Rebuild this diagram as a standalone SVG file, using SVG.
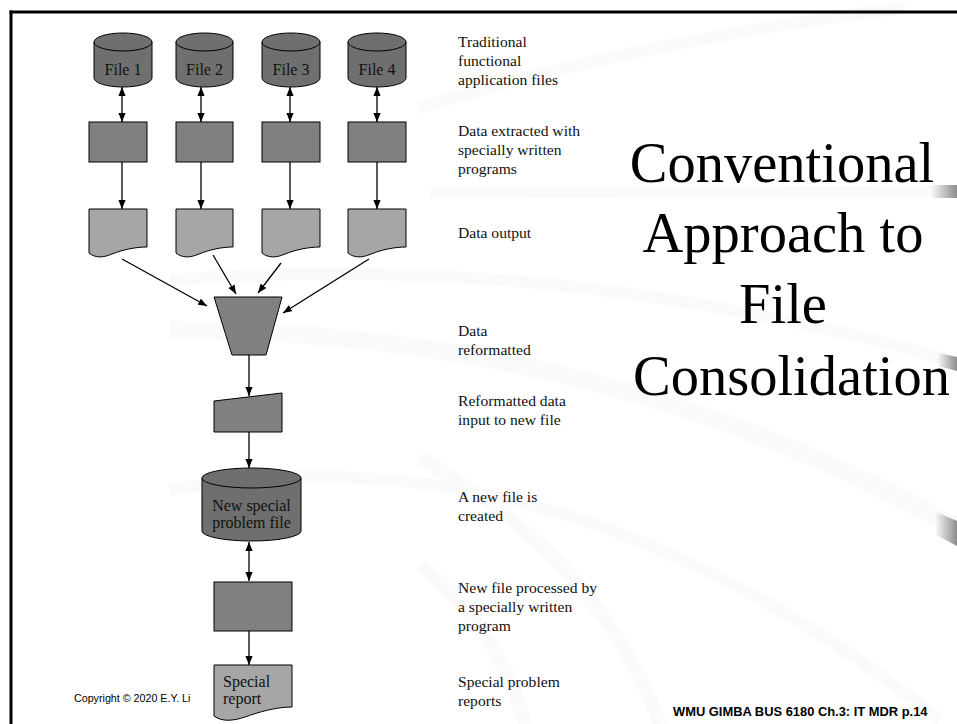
<svg xmlns="http://www.w3.org/2000/svg" width="957" height="724" viewBox="0 0 957 724">
  <defs>
    <style>
      .lbl { font-family: "Liberation Serif", "Times New Roman", serif; font-size: 15.6px; fill: #111; }
      .inner { font-family: "Liberation Serif", "Times New Roman", serif; font-size: 16px; fill: #111; }
      .title { font-family: "Liberation Serif", "Times New Roman", serif; font-size: 56.5px; fill: #000; }
      .foot { font-family: "Liberation Sans", Arial, sans-serif; fill: #000; }
      .cyl { fill: #6f6f6f; stroke: #000; stroke-width: 1; }
      .proc { fill: #808080; stroke: #000; stroke-width: 1; }
      .doc { fill: #a6a6a6; stroke: #000; stroke-width: 1; }
      .conn line { stroke: #000; stroke-width: 1.3; }
      .one { marker-end: url(#ah); }
      .two { marker-start: url(#ah); marker-end: url(#ah); }
      .band { fill: none; stroke: #fafafa; stroke-linecap: butt; }
    </style>
    <marker id="ah" viewBox="0 0 10 8" refX="10" refY="4" markerWidth="9" markerHeight="7.5" markerUnits="userSpaceOnUse" orient="auto-start-reverse">
      <path d="M0,0 L10,4 L0,8 z" fill="#000"/>
    </marker>
    <linearGradient id="tip" x1="0" y1="0" x2="1" y2="0">
      <stop offset="0" stop-color="#f6f6f6"/>
      <stop offset="1" stop-color="#8c8c8c"/>
    </linearGradient>
  </defs>

  <rect width="957" height="724" fill="#fff"/>

  <!-- faint ribbon backdrop -->
  <g id="backdrop">
    <path class="band" d="M420,108 Q640,40 905,8" stroke-width="12"/>
    <path class="band" d="M430,193 L957,191" stroke-width="11"/>
    <path class="band" d="M170,280 Q560,250 957,362" stroke-width="12"/>
    <path class="band" d="M170,330 Q600,330 957,528" stroke-width="18"/>
    <path class="band" d="M170,490 Q560,420 940,720" stroke-width="12"/>
    <path class="band" d="M420,458 Q600,560 660,724" stroke-width="14"/>
    <path class="band" d="M420,565 Q500,630 525,724" stroke-width="14"/>
    <polygon points="932,185 957,185 957,198 932,198" fill="url(#tip)"/>
    <polygon points="938,353 957,357 957,371 938,366" fill="url(#tip)"/>
    <polygon points="936,512 957,521 957,546 936,535" fill="url(#tip)"/>
  </g>

  <!-- slide frame -->
  <g id="frame" stroke="#000" stroke-width="3" fill="none">
    <line x1="9.5" y1="12" x2="957" y2="12"/>
    <line x1="11" y1="10.5" x2="11" y2="724"/>
  </g>

  <!-- connectors -->
  <g id="connectors" class="conn">
    <line class="two" x1="122" y1="87" x2="122" y2="122"/>
    <line class="two" x1="201" y1="87" x2="201" y2="122"/>
    <line class="two" x1="290" y1="87" x2="290" y2="122"/>
    <line class="two" x1="377" y1="87" x2="377" y2="122"/>
    <line class="one" x1="122" y1="162" x2="122" y2="209"/>
    <line class="one" x1="201" y1="162" x2="201" y2="209"/>
    <line class="one" x1="290" y1="162" x2="290" y2="209"/>
    <line class="one" x1="377" y1="162" x2="377" y2="209"/>
    <line class="one" x1="122" y1="259" x2="207" y2="306"/>
    <line class="one" x1="213" y1="255" x2="236" y2="294"/>
    <line class="one" x1="281" y1="263" x2="258" y2="293"/>
    <line class="one" x1="369" y1="259" x2="283" y2="313"/>
    <line class="one" x1="249" y1="355" x2="249" y2="396"/>
    <line class="one" x1="249" y1="432" x2="249" y2="468"/>
    <line class="two" x1="249" y1="542" x2="249" y2="581"/>
    <line class="one" x1="249" y1="631" x2="249" y2="665"/>
  </g>

  <!-- application files -->
  <g id="file1">
    <path class="cyl" d="M94,42 V78 A29,9 0 0 0 152,78 V42 Z"/>
    <ellipse class="cyl" cx="123" cy="42" rx="29" ry="9"/>
    <text class="inner" x="123" y="75" text-anchor="middle">File 1</text>
  </g>
  <g id="file2">
    <path class="cyl" d="M176,42 V78 A28.5,9 0 0 0 233,78 V42 Z"/>
    <ellipse class="cyl" cx="204.5" cy="42" rx="28.5" ry="9"/>
    <text class="inner" x="204.5" y="75" text-anchor="middle">File 2</text>
  </g>
  <g id="file3">
    <path class="cyl" d="M262,42 V78 A29,9 0 0 0 320,78 V42 Z"/>
    <ellipse class="cyl" cx="291" cy="42" rx="29" ry="9"/>
    <text class="inner" x="291" y="75" text-anchor="middle">File 3</text>
  </g>
  <g id="file4">
    <path class="cyl" d="M348,42 V78 A29,9 0 0 0 406,78 V42 Z"/>
    <ellipse class="cyl" cx="377" cy="42" rx="29" ry="9"/>
    <text class="inner" x="377" y="75" text-anchor="middle">File 4</text>
  </g>

  <!-- extraction programs -->
  <g id="prog1"><rect class="proc" x="89" y="122" width="58" height="40"/></g>
  <g id="prog2"><rect class="proc" x="176" y="122" width="57" height="40"/></g>
  <g id="prog3"><rect class="proc" x="262" y="122" width="58" height="40"/></g>
  <g id="prog4"><rect class="proc" x="348" y="122" width="58" height="40"/></g>

  <!-- data output documents -->
  <g id="out1"><path class="doc" d="M89,209 H147 V247 C135,247 122,250 112,254 C103,258 95,258 89,253 Z"/></g>
  <g id="out2"><path class="doc" d="M176,209 H233 V247 C221,247 209,250 199,254 C190,258 182,258 176,253 Z"/></g>
  <g id="out3"><path class="doc" d="M262,209 H320 V247 C308,247 295,250 285,254 C276,258 268,258 262,253 Z"/></g>
  <g id="out4"><path class="doc" d="M348,209 H406 V247 C394,247 381,250 371,254 C362,258 354,258 348,253 Z"/></g>

  <!-- reformatting step -->
  <g id="reformat"><polygon class="proc" points="214,297 282,297 266,355 232,355"/></g>

  <!-- manual input of reformatted data -->
  <g id="input"><polygon class="proc" points="214,401 282,393 282,432 214,432"/></g>

  <!-- new special problem file -->
  <g id="newfile">
    <path class="cyl" d="M202,478 V531 A49.5,10 0 0 0 301,531 V478 Z"/>
    <ellipse class="cyl" cx="251.5" cy="478" rx="49.5" ry="10"/>
    <text class="inner" x="251.5" y="511" text-anchor="middle">New special</text>
    <text class="inner" x="251.5" y="528" text-anchor="middle">problem file</text>
  </g>

  <!-- processing program -->
  <g id="newprog"><rect class="proc" x="214" y="582" width="78" height="49"/></g>

  <!-- special report -->
  <g id="report">
    <path class="doc" d="M214,665 H292 V707 C276,707 259,712 245,717 C233,721 222,722 214,716 Z"/>
    <text class="inner" x="223" y="687">Special</text>
    <text class="inner" x="223" y="704">report</text>
  </g>

  <!-- step descriptions -->
  <g id="labels" class="lbl">
    <text x="458" y="47">Traditional</text>
    <text x="458" y="66">functional</text>
    <text x="458" y="84.5">application files</text>
    <text x="458" y="136">Data extracted with</text>
    <text x="458" y="155">specially written</text>
    <text x="458" y="174">programs</text>
    <text x="458" y="238">Data output</text>
    <text x="458" y="336">Data</text>
    <text x="458" y="355">reformatted</text>
    <text x="458" y="406">Reformatted data</text>
    <text x="458" y="425">input to new file</text>
    <text x="458" y="502">A new file is</text>
    <text x="458" y="521">created</text>
    <text x="458" y="593">New file processed by</text>
    <text x="458" y="612">a specially written</text>
    <text x="458" y="631">program</text>
    <text x="458" y="687">Special problem</text>
    <text x="458" y="706">reports</text>
  </g>

  <!-- title -->
  <g id="title" class="title">
    <text x="782" y="182" text-anchor="middle">Conventional</text>
    <text x="783" y="252" text-anchor="middle">Approach to</text>
    <text x="783" y="323" text-anchor="middle">File</text>
    <text x="633" y="395">Consolidation</text>
  </g>

  <!-- footer -->
  <g id="footer">
    <text class="foot" x="74" y="702" font-size="10.7">Copyright © 2020 E.Y. Li</text>
    <text class="foot" x="673" y="716" font-size="12.9" font-weight="bold">WMU GIMBA BUS 6180 Ch.3: IT MDR p.14</text>
  </g>
</svg>
